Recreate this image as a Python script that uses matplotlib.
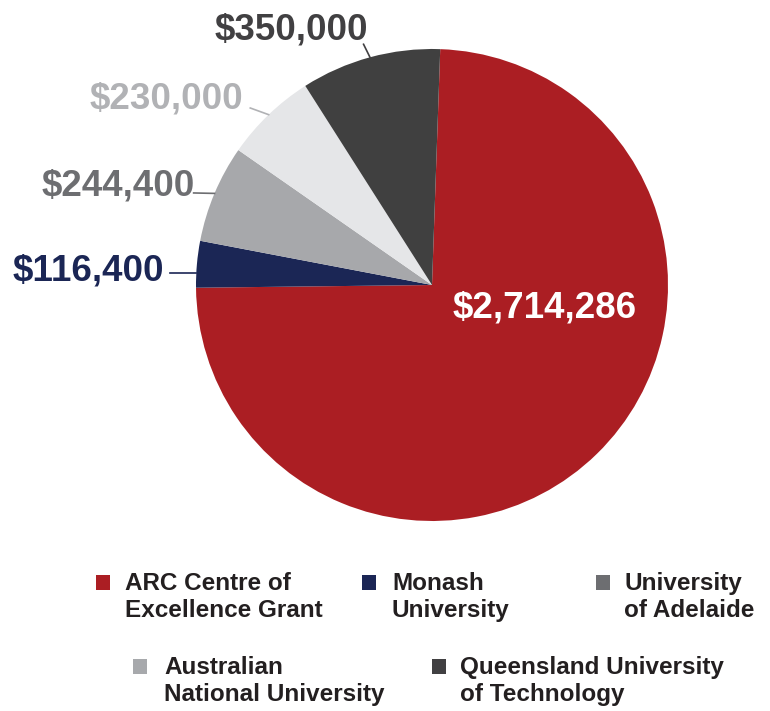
import numpy as np
import matplotlib
matplotlib.use("Agg")
from matplotlib import pyplot as plt
from matplotlib.patches import Rectangle

# funding by source (AUD)
sources = ["ARC Centre of\nExcellence Grant", "Monash\nUniversity", "University\nof Adelaide",
           "Australian\nNational University", "Queensland University\nof Technology"]
amounts = [2714286, 116400, 244400, 230000, 350000]
value_labels = ["$2,714,286", "$116,400", "$244,400", "$230,000", "$350,000"]

slice_colors = ["#ab1e23", "#1b2655", "#a7a8ab", "#e5e6e8", "#404040"]
label_colors = ["white", "#1b2655", "#6d6e71", "#b1b2b5", "#414042"]
legend_colors = ["#ab1e23", "#1b2655", "#6d6e71", "#a7a9ac", "#414042"]

W, H = 770, 711
fig = plt.figure(figsize=(W / 100, H / 100), dpi=100)

# pie centred at (432, 285) px, radius 236 px
cx, cy, r = 432, 285, 236
ax = fig.add_axes([(cx - r) / W, 1 - (cy + r) / H, 2 * r / W, 2 * r / H])
wedges, _ = ax.pie(amounts, colors=slice_colors, startangle=88, counterclock=False,
                   radius=1, wedgeprops=dict(linewidth=0))
ax.set_xlim(-1, 1)
ax.set_ylim(-1, 1)
ax.axis("off")

val_font = dict(family=["Liberation Sans", "DejaVu Sans"], fontweight="bold", fontsize=26.5)

# big slice label inside
ax.text(0.479, -0.097, value_labels[0], color=label_colors[0], ha="center", va="center",
        clip_on=False, **val_font)

# outside labels with leader lines (text centre, leader start)
label_pos = {1: ((-1.458, 0.06), (-1.11, 0.05)),
             2: ((-1.331, 0.42), (-1.01, 0.39)),
             3: ((-1.127, 0.79), (-0.77, 0.75)),
             4: ((-0.597, 1.08), (-0.29, 1.02))}
for i, (tpos, lstart) in label_pos.items():
    w = wedges[i]
    if i == 1:
        # thin slice: run the leader straight across to the rim
        ex, ey = -np.sqrt(1 - lstart[1] ** 2), lstart[1]
    else:
        mid = np.deg2rad((w.theta1 + w.theta2) / 2)
        ex, ey = np.cos(mid), np.sin(mid)
    ax.plot([lstart[0], ex], [lstart[1], ey], color=label_colors[i], lw=1.2, clip_on=False)
    ax.text(tpos[0], tpos[1], value_labels[i], color=label_colors[i], ha="center", va="center",
            clip_on=False, **val_font)

# legend, drawn by hand in two rows
leg_font = dict(family=["Liberation Sans", "DejaVu Sans"],
                fontweight="bold", fontsize=17.5, color="#231f20", linespacing=1.22)
legend_spots = [(96, 575, 125), (362, 575, 392), (596, 575, 624), (133, 659, 164), (432, 659, 460)]
for (sx, sy, tx), name, col in zip(legend_spots, sources, legend_colors):
    fig.patches.append(Rectangle((sx / W, 1 - (sy + 15) / H), 14 / W, 15 / H,
                                 transform=fig.transFigure, facecolor=col, edgecolor="none"))
    fig.text(tx / W, 1 - (sy - 3) / H, name, ha="left", va="top", **leg_font)

fig.savefig("out.png", dpi=100)
